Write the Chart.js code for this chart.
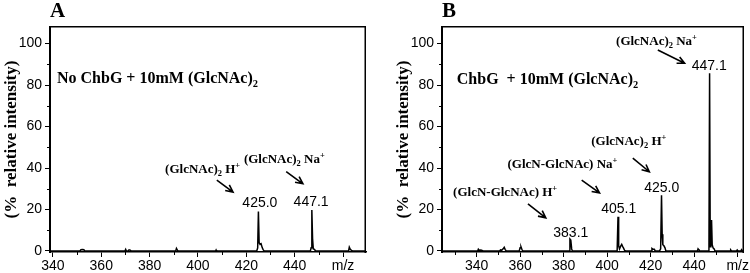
<!DOCTYPE html>
<html>
<head>
<meta charset="utf-8">
<script src="https://cdn.jsdelivr.net/npm/chart.js@4.4.0/dist/chart.umd.min.js"></script>
<style>
  html, body { margin: 0; padding: 0; background: #fff; }
  .panel { position: absolute; top: 0; width: 375px; height: 273px; }
</style>
</head>
<body>
<div class="panel" style="left:0"><canvas id="chartA" width="375" height="273"></canvas></div>
<div class="panel" style="left:375px"><canvas id="chartB" width="375" height="273"></canvas></div>
<script>
// Panel A: no ChbG (m/z, % relative intensity)
const mzA = [338.8, 351.2, 351.6, 352.2, 352.8, 353.2, 369.8, 370.1, 370.4, 371.2, 371.5, 372.0, 372.4,
  390.8, 391.1, 391.5, 391.8, 407.3, 407.5, 407.7,
  424.3, 424.7, 425.0, 425.3, 425.7, 426.1, 426.6, 427.0, 427.4,
  446.5, 446.8, 447.1, 447.4, 447.7, 448.2, 448.6,
  462.3, 462.6, 463.0, 463.5, 463.9, 469.5];
const intA = [0, 0, 0.6, 0.7, 0.6, 0, 0, 0.8, 0, 0, 0.5, 0.4, 0,
  0, 1.2, 0.4, 0, 0, 0.5, 0,
  0, 1.5, 19.0, 4, 3.2, 3.5, 1.5, 0.5, 0,
  0, 1.5, 19.8, 6, 1, 0.8, 0,
  0, 1.8, 0.8, 0.3, 0, 0];

// Panel B: ChbG
const mzB = [324.1, 340.5, 340.8, 341.2, 342.0, 342.5, 343.0,
  350.6, 351.0, 351.6, 352.2, 352.7, 353.1, 353.6,
  359.6, 360.0, 360.4, 360.8, 361.2,
  382.6, 382.9, 383.3, 383.7, 384.0,
  404.6, 405.0, 405.3, 405.7, 406.3, 406.7, 407.1, 407.5, 408.0, 408.5,
  420.3, 420.6, 421.2, 421.7, 422.1,
  424.1, 424.6, 425.0, 425.3, 425.6, 426.1, 426.6, 427.0,
  441.5, 441.8, 442.2, 442.6,
  446.8, 447.1, 447.4, 447.7, 448.0, 448.3, 448.7, 449.2, 449.6,
  456.5, 456.8, 457.2, 459.5, 459.8, 460.2, 461.5, 461.8, 462.2, 462.9];
const intB = [0, 0, 0.8, 0.3, 0.5, 0.3, 0,
  0, 0.5, 0.4, 1.0, 1.8, 0.8, 0,
  0, 1.5, 2.0, 0.8, 0,
  0, 5.8, 5.3, 1, 0,
  0, 16.5, 2.5, 1, 2.5, 3.2, 2.2, 1.5, 0.3, 0,
  0, 1.2, 0.8, 0.8, 0,
  0, 1, 26.9, 8, 3, 2.5, 1.5, 0,
  0, 1.0, 0.5, 0,
  0, 85.7, 2, 3, 14.9, 3, 1.5, 1, 0,
  0, 0.5, 0, 0, 0.5, 0, 0, 0.6, 0, 0];

const yTicks = [0, 20, 40, 60, 80, 100];
const xTicks = [340, 360, 380, 400, 420, 440, 460];

// annotations: text (_ = subscript, ^ = superscript) placed at (m/z, intensity)
const notesA = [
  { text: 'No ChbG + 10mM (GlcNAc)_2', x: 341.7, y: 81.0, size: 16 },
  { text: '(GlcNAc)_2 H^+', x: 386.4, y: 37.6, size: 13 },
  { text: '(GlcNAc)_2 Na^+', x: 419.0, y: 42.4, size: 13 }
];
const peaksA = [
  { text: '425.0', x: 425.6, y: 21.0 },
  { text: '447.1', x: 446.8, y: 21.7 }
];
const arrowsA = [
  [407.8, 34.2, 414.5, 28.4],
  [436.5, 38.3, 443.4, 32.4]
];

const notesB = [
  { text: 'ChbG  + 10mM (GlcNAc)_2', x: 330.9, y: 80.5, size: 16 },
  { text: '(GlcNAc)_2 Na^+', x: 404.1, y: 99.3, size: 13 },
  { text: '(GlcNAc)_2 H^+', x: 392.7, y: 51.1, size: 13 },
  { text: '(GlcN-GlcNAc) Na^+', x: 354.2, y: 40.0, size: 13 },
  { text: '(GlcN-GlcNAc) H^+', x: 329.2, y: 26.7, size: 13 }
];
const peaksB = [
  { text: '447.1', x: 446.9, y: 87.3 },
  { text: '425.0', x: 425.1, y: 28.6 },
  { text: '405.1', x: 405.3, y: 18.3 },
  { text: '383.1', x: 383.3, y: 6.9 }
];
const arrowsB = [
  [423.3, 96.9, 435.6, 90.5],
  [411.8, 44.8, 419.4, 38.2],
  [388.3, 34.2, 396.5, 28.0],
  [363.6, 22.7, 371.8, 16.0]
];

Chart.defaults.color = '#000';
Chart.defaults.font.family = '"Liberation Sans", Arial, sans-serif';

function drawRich(ctx, text, x, y, size) {
  let cx = x;
  for (let i = 0; i < text.length; i++) {
    let ch = text[i], s = size, dy = 0;
    if (ch === '_' || ch === '^') {
      dy = ch === '_' ? size * 0.22 : -size * 0.38;
      s = size * 0.65;
      ch = text[++i];
    }
    ctx.font = `bold ${s}px "Liberation Serif", "Times New Roman", serif`;
    ctx.fillText(ch, cx, y + dy);
    cx += ctx.measureText(ch).width;
  }
}

const notesPlugin = {
  id: 'notes',
  afterDraw(chart, args, opts) {
    const ctx = chart.ctx, xs = chart.scales.x, ys = chart.scales.y;
    const area = chart.chartArea;
    const left = Math.round(area.left), right = Math.round(area.right);
    const top = Math.round(area.top), bottom = Math.round(area.bottom);
    ctx.save();
    ctx.fillStyle = '#000';
    // box round the plot
    ctx.fillRect(left - 1, top - 1, right - left + 1, 1.5);
    ctx.fillRect(right - 1.5, top - 1, 1.5, bottom - top + 2);
    ctx.fillRect(left - 1, top - 1, 1.5, bottom - top + 2);
    // minor ticks
    ctx.strokeStyle = '#000';
    ctx.lineWidth = 1;
    ctx.beginPath();
    for (let v = Math.ceil(xs.min / 10) * 10; v <= xs.max; v += 10) {
      if (v % 20 === 0) continue;
      const px = Math.round(xs.getPixelForValue(v)) + 0.5;
      ctx.moveTo(px, bottom);
      ctx.lineTo(px, bottom + 3);
    }
    for (let v = 10; v <= 100; v += 20) {
      const py = Math.round(ys.getPixelForValue(v)) + 0.5;
      ctx.moveTo(left - 3, py);
      ctx.lineTo(left, py);
    }
    ctx.stroke();
    // panel letter
    ctx.font = 'bold 21px "Liberation Serif", serif';
    ctx.textBaseline = 'alphabetic';
    ctx.fillText(opts.letter, left, 17);
    // annotations
    opts.notes.forEach(n => drawRich(ctx, n.text, xs.getPixelForValue(n.x), ys.getPixelForValue(n.y), n.size));
    ctx.font = '14px "Liberation Sans", Arial, sans-serif';
    ctx.textAlign = 'center';
    opts.peaks.forEach(p => ctx.fillText(p.text, xs.getPixelForValue(p.x), ys.getPixelForValue(p.y)));
    // arrows
    ctx.lineWidth = 1.6;
    opts.arrows.forEach(a => {
      const x1 = xs.getPixelForValue(a[0]), y1 = ys.getPixelForValue(a[1]);
      const x2 = xs.getPixelForValue(a[2]), y2 = ys.getPixelForValue(a[3]);
      const ang = Math.atan2(y2 - y1, x2 - x1);
      ctx.beginPath();
      ctx.moveTo(x1, y1);
      ctx.lineTo(x2, y2);
      ctx.moveTo(x2 - 8 * Math.cos(ang - 0.45), y2 - 8 * Math.sin(ang - 0.45));
      ctx.lineTo(x2, y2);
      ctx.lineTo(x2 - 8 * Math.cos(ang + 0.45), y2 - 8 * Math.sin(ang + 0.45));
      ctx.stroke();
    });
    ctx.restore();
  }
};

function makeChart(id, mz, inten, cfg) {
  const points = mz.map((m, i) => ({ x: m, y: inten[i] }));
  return new Chart(document.getElementById(id), {
    type: 'scatter',
    data: { datasets: [{
      data: points,
      showLine: true,
      borderColor: '#000',
      borderWidth: 1.5,
      pointRadius: 0,
      tension: 0
    }]},
    options: {
      responsive: false,
      animation: false,
      layout: { padding: { top: 27, right: cfg.padRight, left: 0, bottom: 0 } },
      plugins: {
        legend: { display: false },
        tooltip: { enabled: false },
        notes: { letter: cfg.letter, notes: cfg.notes, peaks: cfg.peaks, arrows: cfg.arrows }
      },
      scales: {
        x: {
          type: 'linear',
          min: cfg.xMin, max: cfg.xMax,
          afterFit: s => { s.height = 21; },
          afterBuildTicks: s => { s.ticks = xTicks.filter(v => v >= s.min && v <= s.max).map(v => ({ value: v })); },
          ticks: {
            includeBounds: false,
            maxRotation: 0,
            autoSkip: false,
            padding: 1,
            font: { size: 14 },
            callback: v => v === 460 ? 'm/z' : String(v)
          },
          grid: { drawOnChartArea: false, tickLength: 5, tickColor: '#000', tickWidth: 1 },
          border: { color: '#000', width: 1.5 }
        },
        y: {
          min: -0.5, max: 108,
          afterFit: s => { s.width = cfg.yWidth; },
          afterBuildTicks: s => { s.ticks = yTicks.map(v => ({ value: v })); },
          ticks: { includeBounds: false, padding: 3, font: { size: 14 } },
          grid: { drawOnChartArea: false, tickLength: 5, tickColor: '#000', tickWidth: 1 },
          border: { color: '#000', width: 1 },
          title: {
            display: true,
            text: '(%  relative intensity)',
            font: { family: '"Liberation Serif", "Times New Roman", serif', size: 17, weight: 'bold' },
            padding: { top: cfg.titlePad, bottom: 0 }
          }
        }
      }
    },
    plugins: [notesPlugin]
  });
}

makeChart('chartA', mzA, intA, {
  letter: 'A', xMin: 338.8, xMax: 469.5, yWidth: 50, padRight: 9, titlePad: 1,
  notes: notesA, peaks: peaksA, arrows: arrowsA
});
makeChart('chartB', mzB, intB, {
  letter: 'B', xMin: 324.1, xMax: 462.9, yWidth: 67, padRight: 3, titlePad: 18,
  notes: notesB, peaks: peaksB, arrows: arrowsB
});
</script>
</body>
</html>
